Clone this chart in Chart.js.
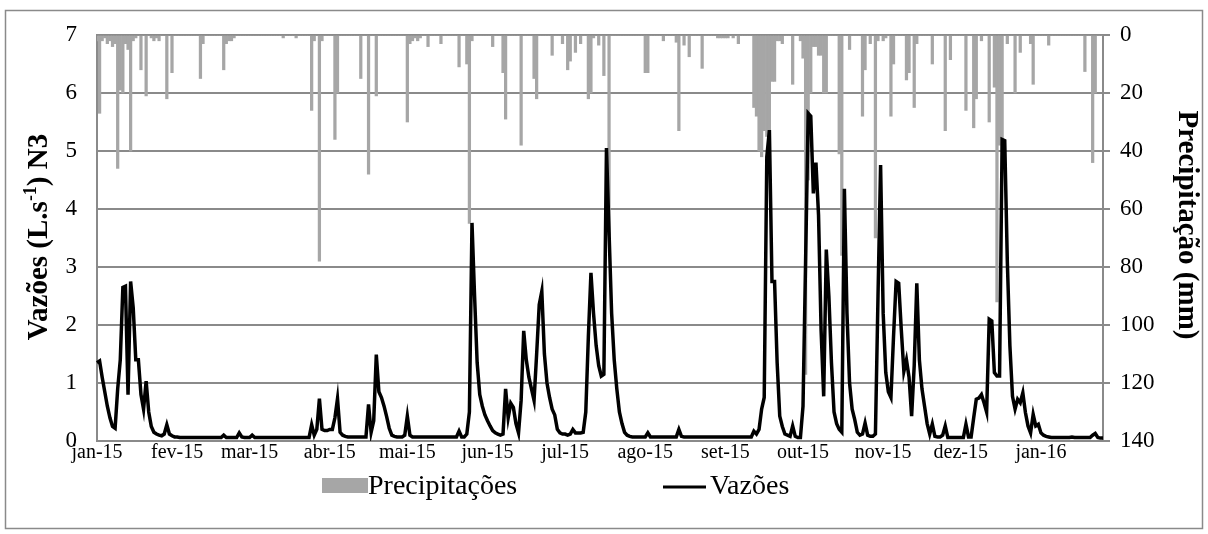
<html lang="pt">
<head>
  <meta charset="UTF-8">
  <title>Vazões N3 e precipitação</title>
  <script src="https://cdn.jsdelivr.net/npm/chart.js"></script>
  <style>
    body { margin: 0; background: #fff; }
  </style>
</head>
<body>
  <canvas id="flowChart" width="1208" height="534"></canvas>
  <script>
    // tick labels, one per month (first day of each month)
    const monthLabels = ['jan-15', 'fev-15', 'mar-15', 'abr-15', 'mai-15', 'jun-15', 'jul-15',
                         'ago-15', 'set-15', 'out-15', 'nov-15', 'dez-15', 'jan-16'];

    // daily flow (L/s)
    const flowJan15 = [1.35,1.38,1.1,0.85,0.6,0.4,0.25,0.22,0.9,1.4,2.65,2.67,0.8,2.75,2.3,1.4,1.4,0.8,0.55,1.03,0.5,0.25,0.15,0.12,0.1,0.09,0.12,0.28,0.12,0.09,0.07];
    const flowFev15 = [0.07,0.06,0.06,0.06,0.06,0.06,0.06,0.06,0.06,0.06,0.06,0.06,0.06,0.06,0.06,0.06,0.06,0.06,0.1,0.06,0.06,0.06,0.06,0.06,0.14,0.07,0.06,0.06];
    const flowMar15 = [0.06,0.1,0.06,0.06,0.06,0.06,0.06,0.06,0.06,0.06,0.06,0.06,0.06,0.06,0.06,0.06,0.06,0.06,0.06,0.06,0.06,0.06,0.06,0.06,0.28,0.1,0.2,0.73,0.2,0.18,0.18];
    const flowAbr15 = [0.2,0.2,0.4,0.73,0.15,0.1,0.08,0.07,0.07,0.07,0.07,0.07,0.07,0.07,0.07,0.63,0.15,0.35,1.49,0.85,0.75,0.6,0.42,0.22,0.1,0.08,0.07,0.07,0.07,0.1];
    const flowMai15 = [0.43,0.1,0.07,0.07,0.07,0.07,0.07,0.07,0.07,0.07,0.07,0.07,0.07,0.07,0.07,0.07,0.07,0.07,0.07,0.07,0.17,0.07,0.07,0.12,0.5,3.76,2.5,1.35,0.8,0.6,0.45];
    const flowJun15 = [0.35,0.26,0.18,0.14,0.12,0.1,0.12,0.9,0.4,0.65,0.58,0.3,0.14,0.7,1.9,1.4,1.1,0.9,0.7,1.5,2.35,2.58,1.5,1.0,0.75,0.55,0.45,0.2,0.14,0.12];
    const flowJul15 = [0.12,0.1,0.12,0.2,0.14,0.14,0.14,0.15,0.5,1.8,2.9,2.2,1.65,1.3,1.12,1.15,5.05,3.6,2.2,1.4,0.9,0.5,0.3,0.15,0.1,0.08,0.07,0.07,0.07,0.07,0.07];
    const flowAgo15 = [0.07,0.14,0.07,0.07,0.07,0.07,0.07,0.07,0.07,0.07,0.07,0.07,0.07,0.2,0.08,0.07,0.07,0.07,0.07,0.07,0.07,0.07,0.07,0.07,0.07,0.07,0.07,0.07,0.07,0.07,0.07];
    const flowSet15 = [0.07,0.07,0.07,0.07,0.07,0.07,0.07,0.07,0.07,0.07,0.07,0.17,0.12,0.2,0.55,0.75,4.9,5.36,2.75,2.75,1.35,0.43,0.25,0.12,0.1,0.08,0.26,0.08,0.06,0.06];
    const flowOut15 = [0.6,3.1,5.65,5.6,4.27,4.8,3.9,1.9,0.77,3.3,2.5,1.35,0.5,0.3,0.2,0.15,4.35,2.2,1.0,0.55,0.37,0.15,0.1,0.12,0.31,0.1,0.08,0.08,0.12,2.5,4.76];
    const flowNov15 = [2.2,1.18,0.85,0.75,1.8,2.75,2.72,1.92,1.2,1.4,1.1,0.43,1.3,2.72,1.4,0.9,0.6,0.3,0.12,0.29,0.08,0.07,0.07,0.1,0.26,0.06,0.06,0.06,0.06,0.06];
    const flowDez15 = [0.06,0.06,0.29,0.07,0.07,0.4,0.72,0.74,0.8,0.66,0.5,2.1,2.07,1.18,1.12,1.12,5.2,5.18,3.1,1.64,0.77,0.55,0.72,0.66,0.83,0.49,0.26,0.14,0.46,0.26,0.29];
    const flowJan16 = [0.14,0.1,0.08,0.07,0.06,0.06,0.06,0.06,0.06,0.06,0.06,0.06,0.07,0.06,0.06,0.06,0.06,0.06,0.06,0.06,0.1,0.13,0.06,0.05,0.05];

    // daily rainfall (mm)
    const rainJan15 = [2,27,2,1,3,2,4,3,46,19,20,3,5,40,2,1,0,12,0,21,0,1,2,1,2,0,0,22,0,13,0];
    const rainFev15 = [0,0,0,0,0,0,0,0,0,15,3,0,0,0,0,0,0,0,12,3,2,2,1,0,0,0,0,0];
    const rainMar15 = [0,0,0,0,0,0,0,0,0,0,0,0,0,1,0,0,0,0,1,0,0,0,0,0,26,2,0,78,2,0,0];
    const rainAbr15 = [0,0,36,20,0,0,0,0,0,0,0,0,15,0,0,48,0,0,21,0,0,0,0,0,0,0,0,0,0,0];
    const rainMai15 = [30,3,2,1,2,1,0,0,4,0,0,0,0,3,0,0,0,0,0,0,11,0,0,10,65,2,0,0,0,0,0];
    const rainJun15 = [0,0,4,0,0,0,13,29,0,0,0,0,0,38,0,0,0,0,15,22,0,0,0,0,0,7,0,0,0,3];
    const rainJul15 = [0,12,9,0,6,0,3,0,0,22,20,1,0,3.5,0,14,0,69,0,0,0,0,0,0,0,0,0,0,0,0,0];
    const rainAgo15 = [13,13,0,0,0,0,0,2,0,0,0,0,2.5,33,0,3.5,0,7.5,0,0,0,0,11.5,0,0,0,0,0,1,1,1];
    const rainSet15 = [1,1,0,1,0,3,0,0,0,0,0,25,28,40,42,33,35,44,16,16,2,2,3,0,0,0,17,0,0,2];
    const rainOut15 = [8,117,50,20,4,4,7,7,20,20,0,0,0,0,41,76,0,0,5,0,0,0,0,28,12,0,3,0,70,2,0];
    const rainNov15 = [2,1,0,28,10,0,0,0,0,15.5,13,0,25,3,0,0,0,0,0,10,0,0,0,0,33,0,8.5,0,0,0];
    const rainDez15 = [0,0,26,0,0,32,22,0,2,0,0,30,0,18,92,38,40,0,3,0,0,20,0,6,0,0,0,3,17,0,0];
    const rainJan16 = [0,0,0,3.5,0,0,0,0,0,0,0,0,0,0,0,0,0,12.6,0,0,44,20,0,0,0];

    const flowMonths = [flowJan15, flowFev15, flowMar15, flowAbr15, flowMai15, flowJun15, flowJul15,
                        flowAgo15, flowSet15, flowOut15, flowNov15, flowDez15, flowJan16];
    const rainMonths = [rainJan15, rainFev15, rainMar15, rainAbr15, rainMai15, rainJun15, rainJul15,
                        rainAgo15, rainSet15, rainOut15, rainNov15, rainDez15, rainJan16];

    const flow = flowMonths.flat();
    const rain = rainMonths.flat();

    // one category per day, month label only on the 1st
    const dayLabels = [];
    flowMonths.forEach((m, i) => {
      m.forEach((v, d) => dayLabels.push(d === 0 ? monthLabels[i] : ''));
    });

    const gridGray = '#8a8a8a';
    const serif = '"Liberation Serif", "Times New Roman", serif';

    const decorPlugin = {
      id: 'decor',
      afterDraw(chart) {
        const ctx = chart.ctx;
        ctx.save();

        // chart frame
        ctx.strokeStyle = gridGray;
        ctx.lineWidth = 1.5;
        ctx.strokeRect(5.5, 10.5, 1197, 518);

        // legend
        ctx.fillStyle = '#a6a6a6';
        ctx.fillRect(322, 478, 46, 15);
        ctx.strokeStyle = '#000';
        ctx.lineWidth = 3;
        ctx.beginPath();
        ctx.moveTo(663, 487);
        ctx.lineTo(706, 487);
        ctx.stroke();
        ctx.fillStyle = '#000';
        ctx.font = '28px ' + serif;
        ctx.textBaseline = 'middle';
        ctx.textAlign = 'left';
        ctx.fillText('Precipitações', 368, 487);
        ctx.fillText('Vazões', 710, 487);

        // left title with superscript
        ctx.save();
        ctx.translate(38, 237);
        ctx.rotate(-Math.PI / 2);
        const big = 'bold 29px ' + serif;
        const small = 'bold 18px ' + serif;
        const parts = [['Vazões (L.s', big, 0], ['-1', small, -11], [') N3', big, 0]];
        let total = 0;
        parts.forEach(p => { ctx.font = p[1]; total += ctx.measureText(p[0]).width; });
        let x = -total / 2;
        ctx.textBaseline = 'alphabetic';
        parts.forEach(p => {
          ctx.font = p[1];
          ctx.fillText(p[0], x, 9 + p[2]);
          x += ctx.measureText(p[0]).width;
        });
        ctx.restore();

        // right title
        ctx.save();
        ctx.translate(1186, 225);
        ctx.rotate(Math.PI / 2);
        ctx.font = 'bold 29px ' + serif;
        ctx.textAlign = 'center';
        ctx.textBaseline = 'middle';
        ctx.fillText('Precipitação (mm)', 0, 0);
        ctx.restore();

        ctx.restore();
      }
    };

    new Chart(document.getElementById('flowChart'), {
      data: {
        labels: dayLabels,
        datasets: [
          {
            type: 'line',
            label: 'Vazões',
            data: flow,
            yAxisID: 'y',
            borderColor: '#000',
            borderWidth: 3.5,
            pointRadius: 0,
            tension: 0,
            order: 0
          },
          {
            type: 'bar',
            label: 'Precipitações',
            data: rain,
            yAxisID: 'y1',
            backgroundColor: '#a6a6a6',
            barPercentage: 1,
            categoryPercentage: 1,
            order: 1
          }
        ]
      },
      options: {
        responsive: false,
        animation: false,
        devicePixelRatio: 1,
        layout: { padding: { left: 0, right: 0, top: 35, bottom: 53 } },
        plugins: {
          legend: { display: false },
          tooltip: { enabled: false }
        },
        scales: {
          x: {
            type: 'category',
            offset: false,
            grid: { display: false, drawTicks: false },
            border: { display: true, color: gridGray, width: 2 },
            ticks: {
              autoSkip: false,
              maxRotation: 0,
              minRotation: 0,
              padding: 0,
              color: '#000',
              font: { family: serif, size: 20 },
              callback: (v, i) => dayLabels[i]
            },
            afterFit: s => { s.height = 40; }
          },
          y: {
            position: 'left',
            min: 0,
            max: 7,
            ticks: { stepSize: 1, padding: 20, color: '#000', font: { family: serif, size: 23 } },
            grid: { color: gridGray, lineWidth: 2, drawTicks: false },
            border: { display: true, color: gridGray, width: 2 },
            afterFit: s => { s.width = 97; }
          },
          y1: {
            position: 'right',
            reverse: true,
            min: 0,
            max: 140,
            ticks: { stepSize: 20, padding: 10, color: '#000', font: { family: serif, size: 23 } },
            grid: { drawOnChartArea: false, color: gridGray, lineWidth: 2, tickLength: 7 },
            border: { display: true, color: gridGray, width: 2 },
            afterFit: s => { s.width = 105; }
          }
        }
      },
      plugins: [decorPlugin]
    });
  </script>
</body>
</html>
